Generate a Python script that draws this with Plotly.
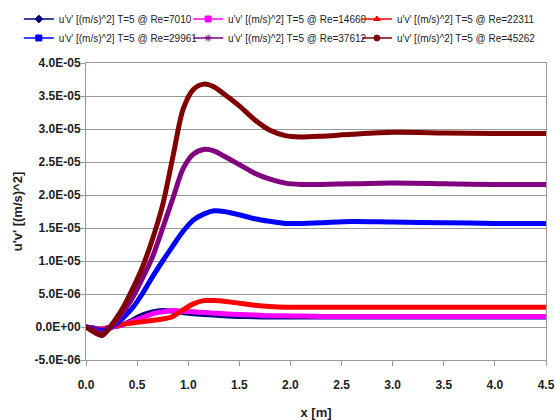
import plotly.graph_objects as go

x_m = [0, 0.08, 0.16, 0.25, 0.35, 0.45, 0.55, 0.65, 0.75, 0.85, 0.95, 1.05, 1.15,
       1.25, 1.35, 1.5, 1.65, 1.8, 1.95, 2.1, 2.3, 2.6, 3.0, 3.5, 4.0, 4.5]

re_7010 = [0, -0.2, -0.3, 0.0, 0.3, 1.0, 1.8, 2.3, 2.5, 2.4, 2.2, 2.0, 1.9,
           1.8, 1.7, 1.6, 1.55, 1.5, 1.5, 1.5, 1.5, 1.5, 1.5, 1.5, 1.5, 1.5]
re_14660 = [0, -0.2, -0.3, 0.0, 0.3, 0.8, 1.4, 2.0, 2.3, 2.5, 2.4, 2.3, 2.2,
            2.1, 2.0, 1.9, 1.8, 1.7, 1.7, 1.65, 1.6, 1.6, 1.6, 1.6, 1.6, 1.6]
re_22311 = [0, -0.2, -0.4, 0.1, 0.4, 0.6, 0.8, 1.0, 1.2, 1.6, 2.6, 3.5, 4.0,
            4.0, 3.9, 3.6, 3.3, 3.1, 3.0, 3.0, 3.0, 3.0, 3.0, 3.0, 3.0, 3.0]
re_29961 = [0, -0.3, -0.6, 0.0, 1.2, 2.8, 5.0, 7.6, 10.0, 12.3, 14.5, 16.2, 17.1,
            17.6, 17.5, 17.0, 16.4, 16.0, 15.7, 15.7, 15.8, 16.0, 15.9, 15.8, 15.7, 15.7]
re_37612 = [0, -0.5, -0.9, 0.0, 2.0, 4.3, 7.3, 10.6, 15.0, 19.5, 24.0, 26.2, 26.9,
            26.7, 25.9, 24.6, 23.3, 22.4, 21.8, 21.6, 21.6, 21.7, 21.8, 21.7, 21.6, 21.6]
re_45262 = [0, -0.8, -1.3, 0.3, 2.6, 5.6, 9.0, 13.3, 18.5, 25.8, 33.0, 36.0, 36.8,
            36.4, 35.3, 33.5, 31.4, 29.8, 29.0, 28.8, 28.9, 29.2, 29.5, 29.4, 29.3, 29.3]

series_names = [
    "u'v' [(m/s)^2] T=5 @ Re=7010",
    "u'v' [(m/s)^2] T=5 @ Re=14660",
    "u'v' [(m/s)^2] T=5 @ Re=22311",
    "u'v' [(m/s)^2] T=5 @ Re=29961",
    "u'v' [(m/s)^2] T=5 @ Re=37612",
    "u'v' [(m/s)^2] T=5 @ Re=45262",
]
series_vals = [re_7010, re_14660, re_22311, re_29961, re_37612, re_45262]
colors = ["#000080", "#FF00FF", "#FF0000", "#0000FF", "#800080", "#800000"]
symbols = ["diamond", "square", "triangle-up", "square", "asterisk-open", "circle"]
legend_cols = ["legend", "legend2", "legend3", "legend", "legend2", "legend3"]

y_tickvals = [-5e-6, 0, 5e-6, 1e-5, 1.5e-5, 2e-5, 2.5e-5, 3e-5, 3.5e-5, 4e-5]
y_ticktext = ["-5.0E-06", "0.0E+00", "5.0E-06", "1.0E-05", "1.5E-05",
              "2.0E-05", "2.5E-05", "3.0E-05", "3.5E-05", "4.0E-05"]
x_tickvals = [0, 0.5, 1.0, 1.5, 2.0, 2.5, 3.0, 3.5, 4.0, 4.5]
x_ticktext = ["0.0", "0.5", "1.0", "1.5", "2.0", "2.5", "3.0", "3.5", "4.0", "4.5"]

fig = go.Figure()
for name, vals, c in zip(series_names, series_vals, colors):
    fig.add_trace(go.Scatter(
        x=x_m, y=[v * 1e-6 for v in vals], name=name,
        mode="lines", showlegend=False, legendgroup=name,
        line=dict(color=c, width=5, shape="spline", smoothing=0.8),
    ))
# legend entries: thin line with a marker, as in the reference
for name, c, s, lg in zip(series_names, colors, symbols, legend_cols):
    fig.add_trace(go.Scatter(
        x=[None], y=[None], name=name, legendgroup=name, legend=lg,
        mode="lines+markers",
        line=dict(color=c, width=1.5),
        marker=dict(color=c, symbol=s, size=6, line=dict(color=c, width=1)),
    ))

axis_font = dict(family="Liberation Sans, Arial, sans-serif", size=12, color="#222222")
leg_common = dict(
    orientation="v", xanchor="left", y=1.197, yanchor="top",
    font=dict(size=10, color="#222222"),
    itemwidth=30, tracegroupgap=0,
    bgcolor="rgba(0,0,0,0)",
)

fig.update_layout(
    width=555, height=420,
    margin=dict(l=86, r=9, t=63, b=60, autoexpand=False),
    paper_bgcolor="white", plot_bgcolor="white",
    font=dict(family="Liberation Sans, Arial, sans-serif", color="#222222"),
    showlegend=True,
    legend=dict(leg_common, x=-0.146),
    legend2=dict(leg_common, x=0.222),
    legend3=dict(leg_common, x=0.589),
    xaxis=dict(
        range=[0, 4.5], tickvals=x_tickvals, ticktext=x_ticktext,
        ticks="outside", ticklen=5, tickcolor="#999999",
        showgrid=False, zeroline=False, ticklabeloverflow="allow",
        showline=True, linecolor="#999999", linewidth=1, mirror=True,
        tickfont=dict(axis_font, weight="bold"), ticklabelstandoff=9,
        title=dict(text="<b>x [m]</b>", font=dict(size=13, color="#222222"), standoff=20),
    ),
    yaxis=dict(
        range=[-5e-6, 4e-5], tickvals=y_tickvals, ticktext=y_ticktext,
        ticks="outside", ticklen=4, tickcolor="#999999",
        showgrid=True, gridcolor="#999999", gridwidth=1,
        zeroline=True, zerolinecolor="#999999", zerolinewidth=1,
        showline=True, linecolor="#999999", linewidth=1, mirror=True,
        tickfont=dict(axis_font, weight="bold"), ticklabelstandoff=-2,
        title=dict(text="<b>u'v' [(m/s)^2]</b>", font=dict(size=13, color="#222222"), standoff=9),
    ),
)

fig.write_html("out.html", config={"displayModeBar": False},
               post_script="document.body.style.margin='0';")
